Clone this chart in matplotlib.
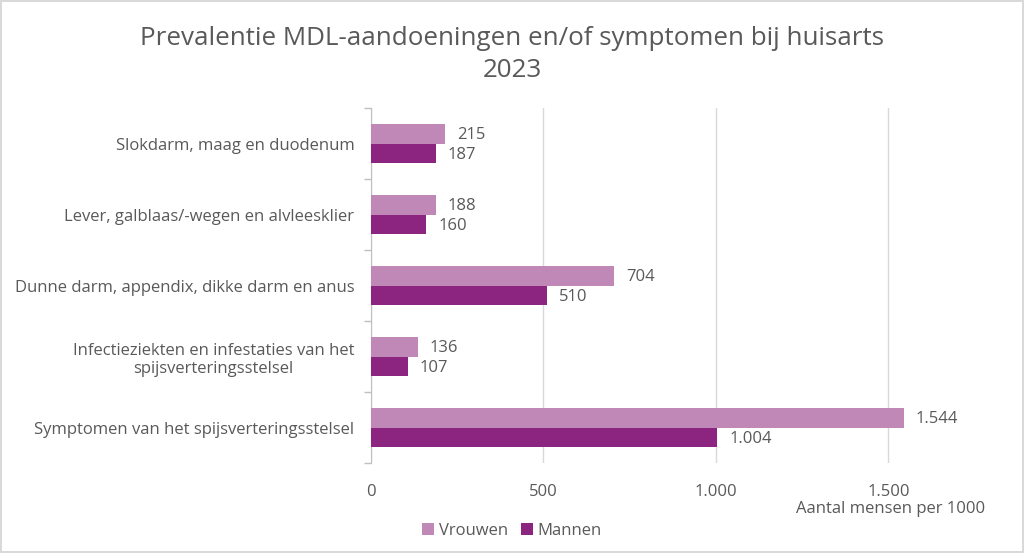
import numpy as np
import matplotlib.pyplot as plt
from matplotlib.ticker import FuncFormatter, FixedLocator

plt.rcParams["font.family"] = ["Open Sans", "DejaVu Sans"]

# Data
categorieen = [
    "Slokdarm, maag en duodenum",
    "Lever, galblaas/-wegen en alvleesklier",
    "Dunne darm, appendix, dikke darm en anus",
    "Infectieziekten en infestaties van het\nspijsverteringsstelsel",
    "Symptomen van het spijsverteringsstelsel",
]
vrouwen = [215, 188, 704, 136, 1544]
mannen = [187, 160, 510, 107, 1004]

kleur_vrouwen = "#BF88B6"
kleur_mannen = "#8C2580"
tekst = "#595959"
fs = 12


def nl_getal(v):
    return f"{int(round(v)):,}".replace(",", ".")


fig = plt.figure(figsize=(10.24, 5.53), dpi=100)
fig.patch.set_edgecolor("#D9D9D9")
fig.patch.set_linewidth(1.5)
ax = fig.add_axes([0.3623, 0.1627, 0.6064, 0.6420])

y = np.arange(len(categorieen))
h = 0.27
ax.barh(y - h / 2, vrouwen, height=h, color=kleur_vrouwen, label="Vrouwen", zorder=3)
ax.barh(y + h / 2, mannen, height=h, color=kleur_mannen, label="Mannen", zorder=3)

for i in range(len(categorieen)):
    ax.text(vrouwen[i] + 35, y[i] - h / 2 + 0.02, nl_getal(vrouwen[i]), va="center",
            ha="left", fontsize=fs, color=tekst)
    ax.text(mannen[i] + 35, y[i] + h / 2 + 0.02, nl_getal(mannen[i]), va="center",
            ha="left", fontsize=fs, color=tekst)

ax.set_xlim(0, 1800)
ax.set_ylim(len(categorieen) - 0.5, -0.5)
ax.xaxis.set_major_locator(FixedLocator([0, 500, 1000, 1500]))
ax.xaxis.set_major_formatter(FuncFormatter(lambda v, p: nl_getal(v)))
ax.set_yticks(y)
ax.set_yticklabels(categorieen, fontsize=fs, color=tekst)
ax.yaxis.set_minor_locator(FixedLocator(np.arange(-0.5, len(categorieen), 1)))
ax.tick_params(axis="y", which="major", length=0, pad=12)
ax.tick_params(axis="y", which="minor", length=5, color="#BFBFBF", width=1)
ax.tick_params(axis="x", length=0, labelsize=fs, labelcolor=tekst, pad=15)
for lbl in ax.get_yticklabels():
    lbl.set_multialignment("center")

ax.grid(axis="x", color="#D9D9D9", linewidth=1, zorder=0)
for s in ["top", "right", "bottom"]:
    ax.spines[s].set_visible(False)
ax.spines["left"].set_color("#BFBFBF")

fig.text(0.962, 0.080, "Aantal mensen per 1000", ha="right", va="center",
         fontsize=fs, color=tekst)
fig.suptitle("Prevalentie MDL-aandoeningen en/of symptomen bij huisarts\n2023",
             y=0.953, fontsize=18.7, color=tekst, linespacing=1.35)

ax.legend(loc="center", bbox_to_anchor=(0.5, 0.04), bbox_transform=fig.transFigure,
          ncol=2, frameon=False, fontsize=fs, labelcolor=tekst,
          handlelength=0.7, handleheight=0.7, handletextpad=0.3, columnspacing=0.8)

fig.savefig("out.png", dpi=100)
